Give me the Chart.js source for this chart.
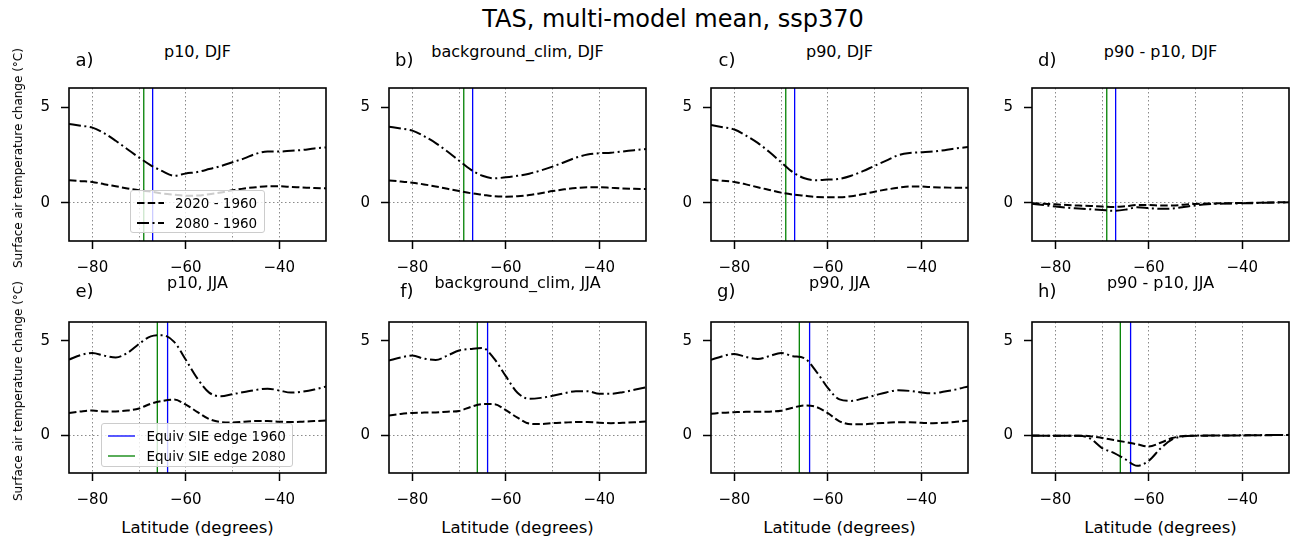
<!DOCTYPE html>
<html>
<head>
<meta charset="utf-8">
<title>TAS, multi-model mean, ssp370</title>
<script src="https://cdn.jsdelivr.net/npm/chart.js"></script>
<style>
  body { margin: 0; background: #fff; }
  #wrap { position: relative; width: 1290px; height: 539px; overflow: hidden; font-family: "DejaVu Sans", sans-serif; color: #000; }
  .txt { position: absolute; white-space: nowrap; }
  .legend { position: absolute; border: 1px solid #ccc; border-radius: 3px; background: rgba(255,255,255,0.8); box-sizing: border-box; }
  .legend .row { position: absolute; height: 20px; line-height: 20px; font-size: 13.5px; white-space: nowrap; }
  .legend svg { position: absolute; top: 0; }
</style>
</head>
<body>
<div id="wrap"></div>
<script>
// latitude grid (degrees)
const lat = [-85, -82.5, -80, -77.5, -75, -72.5, -70, -67.5, -65, -62.5, -60, -57.5, -55, -52.5, -50, -47.5, -45, -42.5, -40, -37.5, -35, -32.5, -30];

// DJF, 2020 - 1960 and 2080 - 1960
const p10_DJF_2020 = [1.18, 1.13, 1.09, 0.97, 0.86, 0.75, 0.65, 0.58, 0.48, 0.42, 0.37, 0.38, 0.45, 0.54, 0.65, 0.75, 0.81, 0.86, 0.86, 0.83, 0.80, 0.77, 0.75];
const p10_DJF_2080 = [4.12, 4.03, 3.93, 3.64, 3.24, 2.80, 2.36, 1.96, 1.65, 1.41, 1.53, 1.61, 1.76, 1.92, 2.12, 2.32, 2.56, 2.68, 2.68, 2.72, 2.76, 2.84, 2.89];
const bg_DJF_2020 = [1.17, 1.11, 1.05, 0.96, 0.85, 0.73, 0.61, 0.50, 0.42, 0.34, 0.32, 0.34, 0.40, 0.50, 0.61, 0.70, 0.77, 0.81, 0.81, 0.78, 0.75, 0.73, 0.72];
const bg_DJF_2080 = [3.98, 3.88, 3.77, 3.48, 3.12, 2.68, 2.20, 1.73, 1.41, 1.28, 1.33, 1.41, 1.52, 1.69, 1.89, 2.12, 2.36, 2.52, 2.59, 2.62, 2.68, 2.75, 2.81];
const p90_DJF_2020 = [1.20, 1.15, 1.09, 0.96, 0.81, 0.67, 0.53, 0.43, 0.37, 0.30, 0.29, 0.29, 0.34, 0.45, 0.58, 0.69, 0.78, 0.85, 0.85, 0.81, 0.80, 0.78, 0.78];
const p90_DJF_2080 = [4.06, 3.95, 3.83, 3.51, 3.13, 2.65, 2.12, 1.60, 1.28, 1.18, 1.21, 1.25, 1.41, 1.65, 1.93, 2.20, 2.48, 2.60, 2.64, 2.68, 2.75, 2.84, 2.91];
const diff_DJF_2020 = [-0.02, -0.05, -0.08, -0.12, -0.15, -0.17, -0.20, -0.22, -0.18, -0.12, -0.12, -0.15, -0.15, -0.10, -0.06, -0.04, -0.03, -0.02, -0.01, 0.0, 0.01, 0.02, 0.02];
const diff_DJF_2080 = [-0.05, -0.12, -0.20, -0.26, -0.30, -0.34, -0.38, -0.42, -0.36, -0.24, -0.28, -0.32, -0.30, -0.22, -0.14, -0.08, -0.05, -0.04, -0.03, -0.02, 0.0, 0.01, 0.02];

// JJA
const p10_JJA_2020 = [1.18, 1.26, 1.31, 1.26, 1.26, 1.31, 1.42, 1.67, 1.82, 1.89, 1.62, 1.23, 0.86, 0.70, 0.68, 0.72, 0.75, 0.75, 0.72, 0.70, 0.72, 0.75, 0.78];
const p10_JJA_2080 = [4.01, 4.25, 4.36, 4.22, 4.12, 4.36, 4.84, 5.24, 5.30, 4.95, 4.00, 3.00, 2.26, 2.07, 2.18, 2.29, 2.40, 2.47, 2.37, 2.26, 2.31, 2.42, 2.58];
const bg_JJA_2020 = [1.05, 1.13, 1.18, 1.20, 1.21, 1.25, 1.29, 1.50, 1.65, 1.65, 1.33, 0.93, 0.62, 0.59, 0.64, 0.67, 0.70, 0.70, 0.66, 0.64, 0.66, 0.69, 0.73];
const bg_JJA_2080 = [3.96, 4.12, 4.22, 4.06, 3.99, 4.22, 4.49, 4.57, 4.62, 4.06, 3.13, 2.25, 1.93, 1.98, 2.09, 2.22, 2.33, 2.33, 2.20, 2.20, 2.28, 2.41, 2.54];
const p90_JJA_2020 = [1.14, 1.19, 1.22, 1.24, 1.24, 1.25, 1.30, 1.46, 1.58, 1.50, 1.17, 0.74, 0.58, 0.58, 0.63, 0.66, 0.69, 0.69, 0.66, 0.64, 0.66, 0.71, 0.77];
const p90_JJA_2080 = [4.00, 4.19, 4.31, 4.15, 4.04, 4.19, 4.36, 4.19, 4.08, 3.39, 2.51, 1.90, 1.82, 1.95, 2.11, 2.27, 2.38, 2.35, 2.27, 2.22, 2.32, 2.43, 2.59];
const diff_JJA_2020 = [-0.01, -0.02, -0.02, -0.02, -0.02, -0.05, -0.14, -0.25, -0.36, -0.48, -0.60, -0.40, -0.15, -0.04, -0.02, -0.02, -0.01, -0.01, -0.01, 0.0, 0.0, 0.01, 0.01];
const diff_JJA_2080 = [-0.02, -0.03, -0.03, -0.02, -0.03, -0.18, -0.68, -0.93, -1.28, -1.62, -1.35, -0.70, -0.22, -0.05, -0.02, -0.01, -0.01, -0.01, 0.0, 0.0, 0.01, 0.01, 0.02];

// equivalent sea ice extent edge latitudes
const edge1960 = { DJF: -67.1, JJA: -63.9 };
const edge2080 = { DJF: -69.0, JJA: -66.1 };

const xTicks = [-80, -70, -60, -50, -40];
const yTicks = [0, 5];
const xLimits = [-85, -30];
const yLimits = [-2, 6];

const panels = [
  { tag: 'a)', title: 'p10, DJF', season: 'DJF', col: 0, row: 0, s20: p10_DJF_2020, s80: p10_DJF_2080 },
  { tag: 'b)', title: 'background_clim, DJF', season: 'DJF', col: 1, row: 0, s20: bg_DJF_2020, s80: bg_DJF_2080 },
  { tag: 'c)', title: 'p90, DJF', season: 'DJF', col: 2, row: 0, s20: p90_DJF_2020, s80: p90_DJF_2080 },
  { tag: 'd)', title: 'p90 - p10, DJF', season: 'DJF', col: 3, row: 0, s20: diff_DJF_2020, s80: diff_DJF_2080 },
  { tag: 'e)', title: 'p10, JJA', season: 'JJA', col: 0, row: 1, s20: p10_JJA_2020, s80: p10_JJA_2080 },
  { tag: 'f)', title: 'background_clim, JJA', season: 'JJA', col: 1, row: 1, s20: bg_JJA_2020, s80: bg_JJA_2080 },
  { tag: 'g)', title: 'p90, JJA', season: 'JJA', col: 2, row: 1, s20: p90_JJA_2020, s80: p90_JJA_2080 },
  { tag: 'h)', title: 'p90 - p10, JJA', season: 'JJA', col: 3, row: 1, s20: diff_JJA_2020, s80: diff_JJA_2080 }
];

// layout
const colLeft = [69, 389, 711, 1032];
const plotW = 257;
const rowTop = [74, 308];
const plotH = [167, 165];
const YW = 50, XH = 40, PT = 6, PR = 6;
const DASH = [7.5, 3.2];
const DASHDOT = [12, 3.5, 2, 3.5];

Chart.defaults.font.family = '"DejaVu Sans", sans-serif';
Chart.defaults.color = '#000';

const wrap = document.getElementById('wrap');

function addText(str, css) {
  const d = document.createElement('div');
  d.className = 'txt';
  d.textContent = str;
  d.style.cssText += css;
  wrap.appendChild(d);
  return d;
}

// draws the four spines
const frame = {
  id: 'frame',
  afterDraw(chart) {
    const a = chart.chartArea, ctx = chart.ctx;
    ctx.save();
    ctx.strokeStyle = '#000';
    ctx.lineWidth = 1.6;
    ctx.strokeRect(a.left, a.top, a.right - a.left, a.bottom - a.top);
    ctx.restore();
  }
};

function makePanel(p) {
  const left = colLeft[p.col], top = rowTop[p.row], h = plotH[p.row];
  const cv = document.createElement('canvas');
  const cw = plotW + YW + PR, ch = h + PT + XH;
  cv.width = cw; cv.height = ch;
  cv.style.cssText = `position:absolute;left:${left - YW}px;top:${top - PT}px;width:${cw}px;height:${ch}px;`;
  wrap.appendChild(cv);

  const datasets = [
    { label: '2020 - 1960', data: lat.map((x, i) => ({ x, y: p.s20[i] })), borderColor: '#000', borderWidth: 2, borderDash: DASH, pointRadius: 0, cubicInterpolationMode: 'monotone', fill: false },
    { label: '2080 - 1960', data: lat.map((x, i) => ({ x, y: p.s80[i] })), borderColor: '#000', borderWidth: 2, borderDash: DASHDOT, pointRadius: 0, cubicInterpolationMode: 'monotone', fill: false },
    { label: 'Equiv SIE edge 1960', data: [{ x: edge1960[p.season], y: yLimits[0] }, { x: edge1960[p.season], y: yLimits[1] }], borderColor: '#0000ff', borderWidth: 1.3, pointRadius: 0, fill: false },
    { label: 'Equiv SIE edge 2080', data: [{ x: edge2080[p.season], y: yLimits[0] }, { x: edge2080[p.season], y: yLimits[1] }], borderColor: '#008000', borderWidth: 1.3, pointRadius: 0, fill: false }
  ];

  new Chart(cv, {
    type: 'line',
    data: { datasets },
    options: {
      responsive: false,
      animation: false,
      events: [],
      layout: { padding: { top: PT, right: PR, left: 0, bottom: 0 } },
      plugins: { legend: { display: false }, tooltip: { enabled: false } },
      scales: {
        x: {
          type: 'linear',
          min: xLimits[0], max: xLimits[1],
          afterBuildTicks: s => { s.ticks = xTicks.map(v => ({ value: v })); },
          afterFit: s => { s.height = XH; },
          ticks: {
            autoSkip: false, maxRotation: 0, padding: 10,
            font: { size: 15 },
            callback: v => (v % 20 === 0 ? '\u2212' + Math.abs(v) : '')
          },
          grid: {
            color: '#8a8a8a', lineWidth: 1,
            tickLength: 8, tickWidth: 1.5,
            tickColor: c => (c.tick && c.tick.value % 20 === 0 ? '#000' : 'rgba(0,0,0,0)')
          },
          border: { display: false, dash: [1.5, 2.5] }
        },
        y: {
          min: yLimits[0], max: yLimits[1],
          afterBuildTicks: s => { s.ticks = yTicks.map(v => ({ value: v })); },
          afterFit: s => { s.width = YW; },
          ticks: { padding: 11, font: { size: 15 }, callback: v => String(v) },
          grid: {
            color: c => (c.tick && c.tick.value === 0 ? '#8a8a8a' : 'rgba(0,0,0,0)'),
            lineWidth: 1, tickLength: 8, tickWidth: 1.5, tickColor: '#000'
          },
          border: { display: false, dash: [1.5, 2.5] }
        }
      }
    },
    plugins: [frame]
  });

  // panel title and tag
  const titleBase = p.row === 0 ? 58 : 288.5;
  const tagBase = p.row === 0 ? 66 : 297;
  addText(p.title, `font-size:16px;line-height:16px;left:${left + plotW / 2}px;top:${titleBase - 0.846 * 16}px;transform:translateX(-50%);`);
  const t = addText(p.tag, `font-size:18px;line-height:18px;top:${tagBase - 0.846 * 18}px;`);
  t.style.right = (1290 - (left + 24.5)) + 'px';

  if (p.row === 1) {
    addText('Latitude (degrees)', `font-size:16.5px;line-height:16.5px;left:${left + plotW / 2}px;top:${533.5 - 0.846 * 16.5}px;transform:translateX(-50%);`);
  }
  if (p.col === 0) {
    addText('Surface air temperature change (\u00b0C)', `font-size:12px;line-height:12px;left:18.3px;top:${top + h / 2}px;transform:translate(-50%,-50%) rotate(-90deg);`);
  }
}

panels.forEach(makePanel);

// main title
addText('TAS, multi-model mean, ssp370', `font-size:24px;line-height:24px;left:673px;top:${27 - 0.846 * 24}px;transform:translateX(-50%);`);

function legendBox(x, y, w, h, items) {
  const box = document.createElement('div');
  box.className = 'legend';
  box.style.cssText = `left:${x}px;top:${y}px;width:${w}px;height:${h}px;`;
  items.forEach((it, i) => {
    const row = document.createElement('div');
    row.className = 'row';
    row.style.left = '0px';
    row.style.top = (1.5 + i * 20) + 'px';
    row.style.width = w + 'px';
    const dash = it.dash ? ` stroke-dasharray="${it.dash.join(',')}"` : '';
    row.innerHTML = `<svg width="27" height="20" style="left:6px"><line x1="0" y1="10" x2="27" y2="10" stroke="${it.color}" stroke-width="${it.width}"${dash}/></svg>` +
      `<span style="position:absolute;left:44.5px;top:0">${it.label}</span>`;
    box.appendChild(row);
  });
  wrap.appendChild(box);
}

legendBox(129.5, 190, 135, 43, [
  { label: '2020 - 1960', color: '#000', width: 2, dash: DASH },
  { label: '2080 - 1960', color: '#000', width: 2, dash: DASHDOT }
]);
legendBox(101, 423, 192, 44, [
  { label: 'Equiv SIE edge 1960', color: '#0000ff', width: 1.3 },
  { label: 'Equiv SIE edge 2080', color: '#008000', width: 1.3 }
]);
</script>
</body>
</html>
